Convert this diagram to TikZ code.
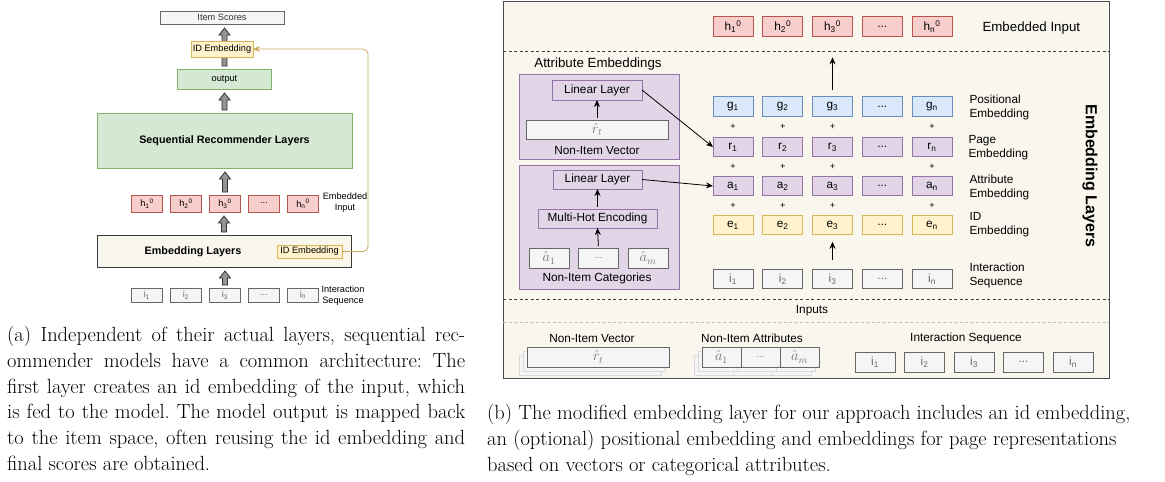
\documentclass[tikz,border=0pt]{standalone}
\usepackage{fontspec}
\newfontfamily\diafont{Liberation Sans}
\usetikzlibrary{arrows.meta,calc}

\definecolor{grayfill}{HTML}{F5F5F5}
\definecolor{graydraw}{HTML}{666666}
\definecolor{graytext}{HTML}{333333}
\definecolor{yelfill}{HTML}{FFF2CC}
\definecolor{yeldraw}{HTML}{D6B656}
\definecolor{grnfill}{HTML}{D5E8D4}
\definecolor{grndraw}{HTML}{82B366}
\definecolor{redfill}{HTML}{F8CECC}
\definecolor{reddraw}{HTML}{B85450}
\definecolor{blufill}{HTML}{DAE8FC}
\definecolor{bludraw}{HTML}{6C8EBF}
\definecolor{purfill}{HTML}{E1D5E7}
\definecolor{purdraw}{HTML}{9673A6}
\definecolor{crmfill}{HTML}{F9F7ED}
\definecolor{crmdraw}{HTML}{36393D}
\definecolor{linkcol}{HTML}{C8AA5E}

\tikzset{
  cbox/.style={draw, line width=0.8pt, inner sep=0pt, outer sep=0pt, align=center},
  graybox/.style={cbox, fill=grayfill, draw=graydraw, text=graytext},
  yelbox/.style={cbox, fill=yelfill, draw=yeldraw},
  grnbox/.style={cbox, fill=grnfill, draw=grndraw},
  redbox/.style={cbox, fill=redfill, draw=reddraw},
  blubox/.style={cbox, fill=blufill, draw=bludraw},
  purbox/.style={cbox, fill=purfill, draw=purdraw},
  crmbox/.style={cbox, fill=crmfill, draw=crmdraw},
  shadowbox/.style={draw=black!15, fill=black!4, line width=0.6pt},
  txtsm/.style={font=\diafont\fontsize{9.2}{11}\selectfont},
  txtbf/.style={font=\diafont\bfseries\fontsize{10.8}{13}\selectfont},
  txtmd/.style={font=\diafont\fontsize{11.8}{14}\selectfont},
  txtlg/.style={font=\diafont\fontsize{13.3}{16}\selectfont},
  hatlbl/.style={font=\diafont\fontsize{14}{16}\selectfont, text=black!55},
  capfont/.style={font=\fontsize{20.5}{25.8}\selectfont\frenchspacing, inner sep=0pt},
  tcell/.style={minimum width=31pt},
  rcell/.style={minimum width=40pt, minimum height=19.5pt},
  arr/.style={-{Stealth[length=7pt,width=6pt]}, line width=0.8pt},
  blockarr/.style={draw=black!80, fill=black!42, line width=0.8pt},
  idlink/.style={draw=linkcol, line width=0.8pt, rounded corners=5pt,
    -{Stealth[length=7pt,width=6pt]}}
}

\newcommand\etcdots{...}
\newcommand\capline[1]{\makebox[458pt][s]{#1}}
\newcommand\blockarrow[2]{%
  \draw[blockarr] let \p1=(#1), \p2=(#2) in
    (\x1-2.5pt,\y1+3pt) -- (\x1-2.5pt,\y2-11pt) -- (\x1-5.5pt,\y2-11pt)
    -- (\x1,\y2-4pt) -- (\x1+5.5pt,\y2-11pt) -- (\x1+2.5pt,\y2-11pt)
    -- (\x1+2.5pt,\y1+3pt) -- cycle;}

\begin{document}
\begin{tikzpicture}[x=1pt,y=-1pt]
  \useasboundingbox (0,0) rectangle (1165,482);

  % (a) generic sequential recommender
  \node[graybox, txtsm, minimum width=124pt, minimum height=13pt] (scores) at (222,17.5) {Item Scores};
  \node[grnbox, txtsm, minimum width=94pt, minimum height=20pt] (output) at (224.5,79) {output};
  \blockarrow{output.north}{scores.south}
  \node[yelbox, txtsm, minimum width=62pt, minimum height=16pt] (idtop) at (222,49) {ID Embedding};
  \node[grnbox, txtbf, minimum width=255pt, minimum height=55pt] (seqrec) at (224.5,140.5) {Sequential Recommender Layers};
  \blockarrow{seqrec.north}{output.south}
  \foreach \lab [count=\k] in {{h\textsubscript{1}\textsuperscript{0}},{h\textsubscript{2}\textsuperscript{0}},{h\textsubscript{3}\textsuperscript{0}},\etcdots,{h\textsubscript{n}\textsuperscript{0}}}
    \node[redbox, txtsm, tcell, minimum height=17pt] (h\k) at ({147+39*(\k-1)},203.5) {\lab};
  \node[txtsm, align=center] (embin) at (345,203) {Embedded\\Input};
  \blockarrow{h3.north}{seqrec.south}
  \node[crmbox, minimum width=254pt, minimum height=32pt] (emblay) at (224,251) {};
  \node[txtbf] (emblaytxt) at (193,252) {Embedding Layers};
  \node[yelbox, txtsm, minimum width=65pt, minimum height=13pt] (idin) at (309.5,251.5) {ID Embedding};
  \blockarrow{emblay.north}{h3.south}
  \foreach \lab [count=\k] in {{i\textsubscript{1}},{i\textsubscript{2}},{i\textsubscript{3}},\etcdots,{i\textsubscript{n}}}
    \node[graybox, txtsm, tcell, minimum height=14pt, text=graydraw] (i\k) at ({147+39*(\k-1)},295) {\lab};
  \node[txtsm, align=center] (iseq) at (343,296) {Interaction\\Sequence};
  \blockarrow{i3.north}{emblay.south}
  \draw[idlink] (idin.east) -- ++(26,0) |- (idtop.east);

  % (b) modified embedding layer
  \draw[fill=crmfill, draw=black!70, line width=1pt] (503,1) rectangle (1109,378);
  \foreach \lab [count=\k] in {{h\textsubscript{1}\textsuperscript{0}},{h\textsubscript{2}\textsuperscript{0}},{h\textsubscript{3}\textsuperscript{0}},\etcdots,{h\textsubscript{n}\textsuperscript{0}}}
    \node[redbox, txtmd, rcell] (hh\k) at ({733+49.75*(\k-1)},26.5) {\lab};
  \node[txtlg, anchor=west] (embinr) at (979,28) {Embedded Input};
  \draw[dash pattern=on 3pt off 2.5pt, line width=0.8pt, black!75] (503,51) -- (1109,51);

  \foreach \lab [count=\k] in {{g\textsubscript{1}},{g\textsubscript{2}},{g\textsubscript{3}},\etcdots,{g\textsubscript{n}}}
    \node[blubox, txtmd, rcell] (g\k) at ({733+49.75*(\k-1)},106.5) {\lab};
  \foreach \lab [count=\k] in {{r\textsubscript{1}},{r\textsubscript{2}},{r\textsubscript{3}},\etcdots,{r\textsubscript{n}}}
    \node[purbox, txtmd, rcell] (r\k) at ({733+49.75*(\k-1)},147) {\lab};
  \foreach \lab [count=\k] in {{a\textsubscript{1}},{a\textsubscript{2}},{a\textsubscript{3}},\etcdots,{a\textsubscript{n}}}
    \node[purbox, txtmd, rcell] (a\k) at ({733+49.75*(\k-1)},186) {\lab};
  \foreach \lab [count=\k] in {{e\textsubscript{1}},{e\textsubscript{2}},{e\textsubscript{3}},\etcdots,{e\textsubscript{n}}}
    \node[yelbox, txtmd, rcell] (e\k) at ({733+49.75*(\k-1)},225) {\lab};
  \foreach \lab [count=\k] in {{i\textsubscript{1}},{i\textsubscript{2}},{i\textsubscript{3}},\etcdots,{i\textsubscript{n}}}
    \node[graybox, txtmd, rcell, text=graydraw] (ir\k) at ({733+49.75*(\k-1)},279) {\lab};
  \foreach \k in {1,2,3,5} {
    \node[txtsm] (pgr\k) at ({733+49.75*(\k-1)},127) {+};
    \node[txtsm] (pra\k) at ({733+49.75*(\k-1)},167) {+};
    \node[txtsm] (pae\k) at ({733+49.75*(\k-1)},206) {+};
  }
  \node[txtmd, anchor=west, align=left] (posl) at (966,107) {Positional\\Embedding};
  \node[txtmd, anchor=west, align=left] (pagel) at (965,148) {Page\\Embedding};
  \node[txtmd, anchor=west, align=left] (attl) at (966,187) {Attribute\\Embedding};
  \node[txtmd, anchor=west, align=left] (idl) at (966,225) {ID\\Embedding};
  \node[txtmd, anchor=west, align=left] (intl) at (966,275) {Interaction\\Sequence};
  \node[font=\diafont\bfseries\fontsize{16}{18}\selectfont, rotate=-90] (embtitle) at (1090,176) {Embedding Layers};

  \node[txtlg] (attemb) at (598,64) {Attribute Embeddings};
  \node[purbox, minimum width=160pt, minimum height=85pt] (vecgrp) at (599,116.5) {};
  \node[purbox, txtmd, minimum width=90pt, minimum height=20pt] (lin1) at (597,90) {Linear Layer};
  \node[graybox, hatlbl, minimum width=142pt, minimum height=19pt] (rt) at (597,129.5) {$\hat{r}_t$};
  \node[txtmd] (vecl) at (597,150) {Non-Item Vector};
  \node[purbox, minimum width=160pt, minimum height=124pt] (catgrp) at (599,227) {};
  \node[purbox, txtmd, minimum width=89pt, minimum height=19pt] (lin2) at (597.5,179.5) {Linear Layer};
  \node[purbox, txtmd, minimum width=119pt, minimum height=19pt] (mh) at (597.5,218.5) {Multi-Hot Encoding};
  \foreach \lab [count=\k] in {{$\hat{a}_1$},{\small\etcdots},{$\hat{a}_m$}}
    \node[graybox, hatlbl, rcell, minimum height=20pt] (ac\k) at ({549+49.5*(\k-1)},258) {\lab};
  \node[txtmd] (catl) at (597,278) {Non-Item Categories};

  \draw[arr, shorten <=2pt] (rt.north) -- (lin1.south);
  \draw[arr, shorten <=2pt] (mh.north) -- (lin2.south);
  \draw[arr, shorten <=2pt] (ac2.north) -- (mh.south);
  \draw[arr] (lin1.east) -- (r1.west);
  \draw[arr] (lin2.east) -- (a1.west);
  \draw[arr, shorten <=7pt, shorten >=21pt] (g3.north) -- (hh3.south);
  \draw[arr, shorten <=9pt, shorten >=7pt] (ir3.north) -- (e3.south);

  % inputs
  \draw[dash pattern=on 3pt off 2.5pt, line width=0.8pt, black!75] (503,299) -- (1109,299);
  \node[txtmd] (inputs) at (812,311) {Inputs};
  \draw[dash pattern=on 3pt off 2.5pt, line width=0.6pt, black!25] (503,322) -- (1109,322);
  \node[txtmd] (vecin) at (592,338) {Non-Item Vector};
  \node[txtmd] (attin) at (752,338) {Non-Item Attributes};
  \node[txtmd] (seqin) at (966,338) {Interaction Sequence};
  \foreach \s in {8,4} {
    \draw[shadowbox] (527-\s,347+\s) rectangle (669-\s,367+\s);
    \foreach \xa/\xb in {702/741,741/780,780/819}
      \draw[shadowbox] (\xa-\s,347+\s) rectangle (\xb-\s,367+\s);
  }
  \node[graybox, hatlbl, minimum width=142pt, minimum height=20pt] (rtin) at (598,357) {$\hat{r}_t$};
  \foreach \lab [count=\k] in {{$\hat{a}_1$},{\small\etcdots},{$\hat{a}_m$}}
    \node[graybox, hatlbl, minimum width=39pt, minimum height=20pt] (ain\k) at ({721.5+39*(\k-1)},357) {\lab};
  \foreach \lab [count=\k] in {{i\textsubscript{1}},{i\textsubscript{2}},{i\textsubscript{3}},\etcdots,{i\textsubscript{n}}}
    \node[graybox, txtmd, rcell, minimum height=20pt, text=graydraw] (iin\k) at ({875+49.5*(\k-1)},362) {\lab};

  % captions
  \node[capfont, align=left, anchor=north west] (capa) at (7,326)
    {\capline{(a) Independent of their actual layers, sequential rec-}\\
     \capline{ommender models have a common architecture: The}\\
     \capline{first layer creates an id embedding of the input, which}\\
     \capline{is fed to the model. The model output is mapped back}\\
     \capline{to the item space, often reusing the id embedding and}\\
     final scores are obtained.};
  \node[capfont, align=left, anchor=north west] (capb) at (487,404)
    {(b) The modified embedding layer for our approach includes an id embedding,\\
     an (optional) positional embedding and embeddings for page representations\\
     based on vectors or categorical attributes.};
\end{tikzpicture}
\end{document}
